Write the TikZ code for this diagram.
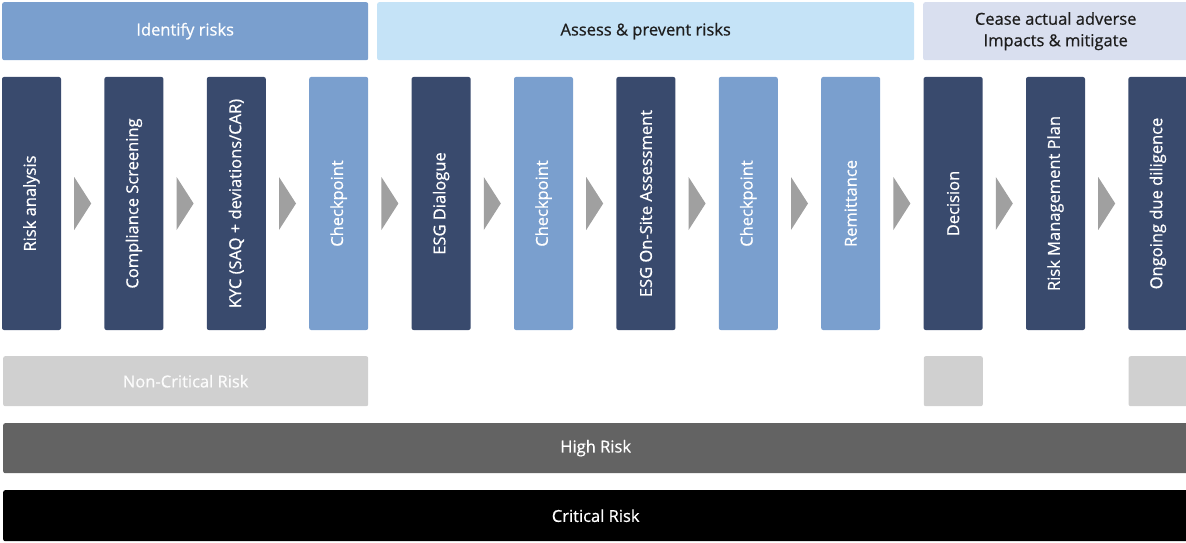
\documentclass[tikz,border=0pt]{standalone}
\usepackage{fontspec}
\setmainfont{Open Sans}[FakeBold=0.7]
\usetikzlibrary{calc}
\definecolor{navy}{HTML}{394A6D}
\definecolor{lblue}{HTML}{7A9FCE}
\definecolor{hdrtwo}{HTML}{C5E3F7}
\definecolor{hdrthree}{HTML}{D9DFEF}
\definecolor{lgray}{HTML}{D0D0D0}
\definecolor{mgray}{HTML}{636363}
\definecolor{arrgray}{HTML}{A0A0A0}
\definecolor{txtdark}{HTML}{1E1E1E}
\tikzset{
  box/.style={rounded corners=2pt, inner sep=0pt, font=\fontsize{16.5}{20}\selectfont},
  colbox/.style={box, rotate=90, minimum width=253pt, minimum height=59pt, text=white, anchor=center},
  darkcol/.style={colbox, fill=navy},
  lightcol/.style={colbox, fill=lblue},
  bar/.style={box, minimum height=50pt, anchor=north west},
  hdr/.style={box, minimum height=58pt, anchor=north west, align=center, font=\fontsize{16.5}{21.5}\selectfont},
  arrowfill/.style={fill=arrgray}
}
\begin{document}
\begin{tikzpicture}[x=1pt,y=-1pt]
\useasboundingbox (0,0) rectangle (1186,543);
% headers
\node[hdr, fill=lblue, text=white, minimum width=366pt] (h1) at (2,2) {Identify risks};
\node[hdr, fill=hdrtwo, text=txtdark, minimum width=537pt] (h2) at (377,2) {Assess \& prevent risks};
\node[hdr, fill=hdrthree, text=txtdark, minimum width=265pt] (h3) at (923,2) {Cease actual adverse\\Impacts \& mitigate};
% columns
\node[darkcol]  (c1)  at (31.5,203.5)   {Risk analysis};
\node[darkcol]  (c2)  at (133.9,203.5)  {Compliance Screening};
\node[darkcol]  (c3)  at (236.3,203.5)  {KYC (SAQ + deviations/CAR)};
\node[lightcol] (c4)  at (338.7,203.5)  {Checkpoint};
\node[darkcol]  (c5)  at (441.1,203.5)  {ESG Dialogue};
\node[lightcol] (c6)  at (543.5,203.5)  {Checkpoint};
\node[darkcol]  (c7)  at (645.9,203.5)  {ESG On-Site Assessment};
\node[lightcol] (c8)  at (748.3,203.5)  {Checkpoint};
\node[lightcol] (c9)  at (850.7,203.5)  {Remittance};
\node[darkcol]  (c10) at (953.1,203.5)  {Decision};
\node[darkcol]  (c11) at (1055.5,203.5) {Risk Management Plan};
\node[darkcol]  (c12) at (1157.9,203.5) {Ongoing due diligence};
% arrows
\foreach \a/\b in {c1/c2,c2/c3,c3/c4,c4/c5,c5/c6,c6/c7,c7/c8,c8/c9,c9/c10,c10/c11,c11/c12}{
  \coordinate (m) at ($(\a.south)!0.5!(\b.north)$);
  \fill[arrowfill] ($(m)+(-8.5,-26.5)$) -- ($(m)+(8.5,0)$) -- ($(m)+(-8.5,26.5)$) -- cycle;
}
% risk bars
\node[bar, fill=lgray, text=white!94!lgray, minimum width=365pt] (nc) at (3,356) {Non-Critical Risk};
\node[bar, fill=lgray, minimum width=59pt] (nc2) at (923.6,356) {};
\node[bar, fill=lgray, minimum width=59pt] (nc3) at (1128.4,356) {};
\node[bar, fill=mgray, text=white, minimum width=1185pt] (hr) at (3,423) {High Risk};
\node[bar, fill=black, text=white, minimum width=1185pt, minimum height=51pt] (cr) at (3,490) {Critical Risk};
\end{tikzpicture}
\end{document}
